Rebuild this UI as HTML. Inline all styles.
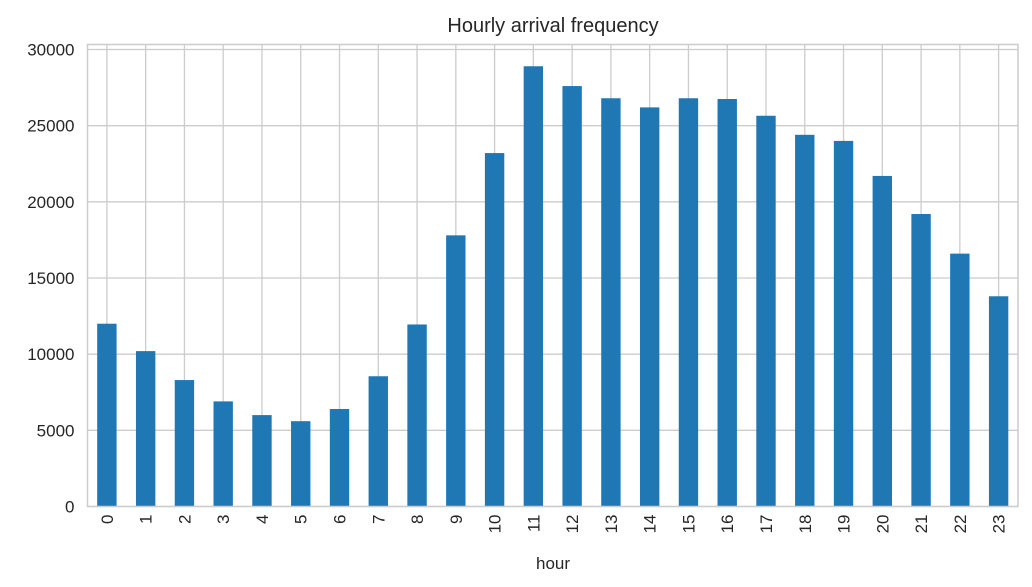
<!DOCTYPE html>
<html><head><meta charset="utf-8"><style>
html,body{margin:0;padding:0;background:#fff;}
svg{display:block;font-family:"Liberation Sans","DejaVu Sans",sans-serif;}
</style></head><body>
<svg id="chart" width="1032" height="587" viewBox="0 0 1032 587" xmlns="http://www.w3.org/2000/svg">
<rect width="1032" height="587" fill="#fff"/>
<text x="553" y="32" font-size="20" fill="#262626" text-anchor="middle">Hourly arrival frequency</text>
<g id="grid"></g><g id="bars"></g><g id="axes"></g>
<text x="553" y="569" font-size="17" fill="#262626" text-anchor="middle">hour</text>
</svg>
<script>
const categories = ["0","1","2","3","4","5","6","7","8","9","10","11","12","13","14","15","16","17","18","19","20","21","22","23"];
const counts = [12000,10200,8300,6900,6000,5600,6400,8550,11950,17800,23200,28900,27600,26800,26200,26800,26750,25650,24400,24000,21700,19200,16600,13800];
const yTicks = [0,5000,10000,15000,20000,25000,30000];
const L=87.5,R=1018,T=44.5,B=506.5;
const NS="http://www.w3.org/2000/svg";
const step=(R-L)/categories.length;
const xC=i=>L+step*(i+0.5);
const y=v=>B-(v/30000)*(B-49.5);
function mk(tag,attrs,parent){const e=document.createElementNS(NS,tag);for(const k in attrs)e.setAttribute(k,attrs[k]);parent.appendChild(e);return e;}
const grid=document.getElementById('grid'),bars=document.getElementById('bars'),axes=document.getElementById('axes');
yTicks.forEach(t=>{
  const l=mk('line',{x1:L,x2:R,y1:y(t),y2:y(t),stroke:'#cccccc','stroke-width':1.3},grid);
  
  
  const tx=mk('text',{x:L-13,y:y(t)+6,'font-size':17,fill:'#262626','text-anchor':'end'},axes);
  tx.textContent=t;
  
  
});
categories.forEach((c,i)=>{
  const l=mk('line',{x1:xC(i),x2:xC(i),y1:T,y2:B,stroke:'#cccccc','stroke-width':1.3},grid);
  
  
  const bw=step*0.5;
  const r=mk('rect',{x:xC(i)-bw/2,y:y(counts[i]),width:bw,height:B-y(counts[i]),fill:'#1f77b4'},bars);
  
  
  const tx=mk('text',{x:0,y:0,'font-size':17,fill:'#262626','text-anchor':'end',transform:`translate(${xC(i)+6},${B+8}) rotate(-90)`},axes);
  tx.textContent=c;
  
  
});
const frame=mk('rect',{x:L,y:T,width:R-L,height:B-T,fill:'none',stroke:'#cccccc','stroke-width':1.5},axes);


</script>
</body></html>
